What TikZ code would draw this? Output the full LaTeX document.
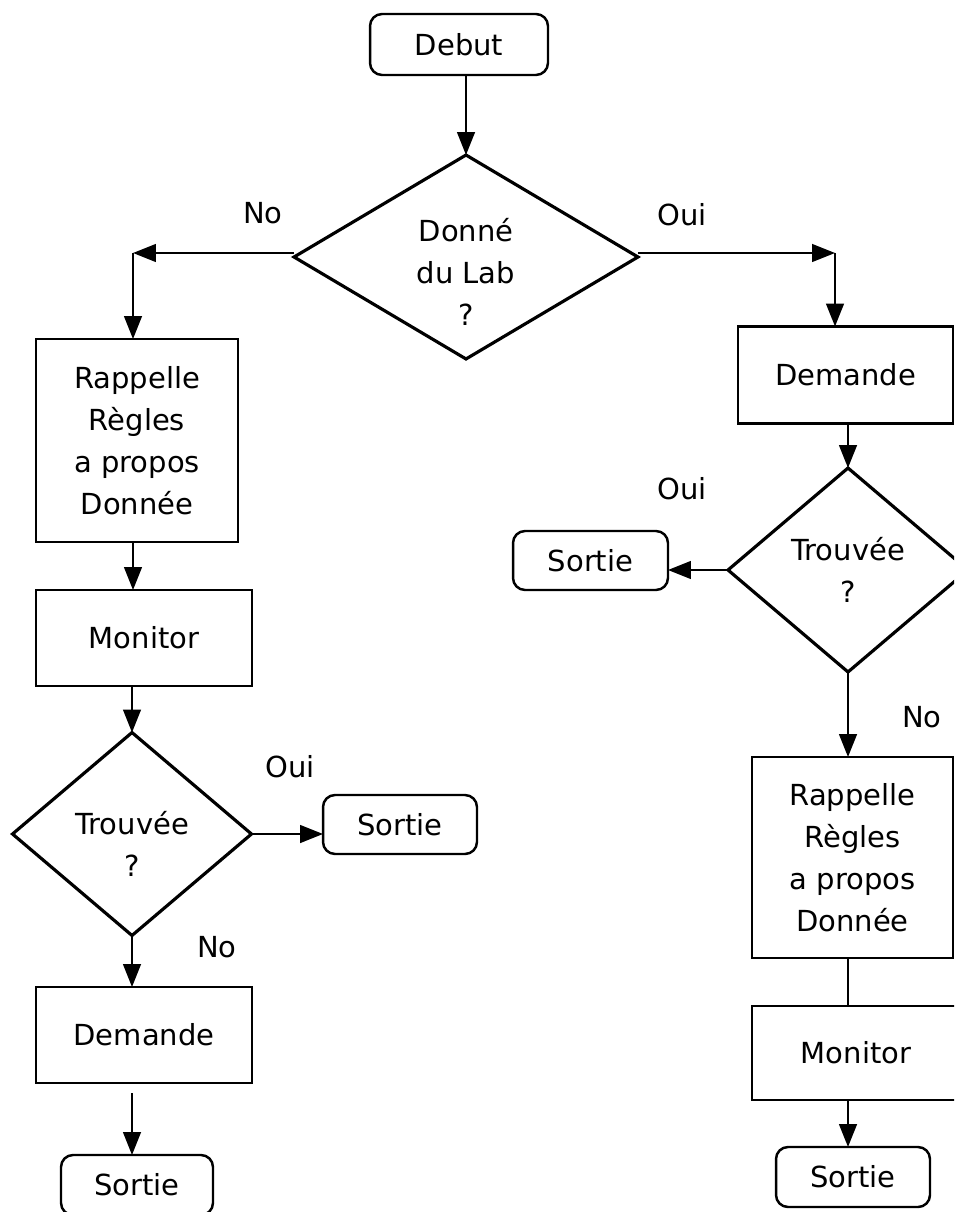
\documentclass[tikz,border=0pt]{standalone}
\usepackage{fontspec}
\setmainfont{DejaVu Sans}
\usepackage{tikz}
\usetikzlibrary{
	arrows.meta,
	calc,
	positioning,
	shapes.geometric
}

\begin{document}
\begin{tikzpicture}[x=0.02cm, y=-0.02cm,
		font=\fontsize{16.5}{23.8}\selectfont,
		proc/.style={draw, line width=1.4pt, rectangle, align=center, inner sep=0pt, outer sep=0pt},
		term/.style={draw, line width=1.4pt, rectangle, rounded corners=0.24cm, inner sep=0pt, outer sep=0pt},
		decide/.style={draw, line width=1.8pt, diamond, align=center, inner sep=0pt, outer sep=0pt},
		flow/.style={line width=1.4pt, -{Triangle[length=13pt, width=10pt]}},
		tag/.style={inner sep=0pt}]
			\useasboundingbox (0,0) rectangle (954,1212);
			\clip (0,0) rectangle (954,1212);
			% top
			\node[term, minimum width=3.56cm, minimum height=1.22cm] (debut) at (459,44.5) {Debut};
			\node[decide, minimum width=6.88cm, minimum height=4.08cm, aspect=1.69] (dlab) at (466,257) {\rule{0pt}{30pt}Donné\\du Lab\\?};
			\node[tag] (no1) at (263,213) {No};
			\node[tag] (oui1) at (682,215) {Oui};
			\coordinate (cl) at (133,253);
			\coordinate (cr) at (835,253);
			% left column
			\begin{scope}
				\node[proc, minimum width=4.04cm, minimum height=4.06cm] (regleA) at (137,440.5) {Rappelle\\Règles\\a propos\\Donnée};
				\node[proc, minimum width=4.32cm, minimum height=1.92cm] (monA) at (144,638) {Monitor};
				\node[decide, minimum width=4.78cm, minimum height=4.06cm, aspect=1.18] (trouA) at (132,834) {\rule{0pt}{24.6pt}Trouvée\\?};
				\node[term, minimum width=3.08cm, minimum height=1.18cm] (sortA) at (400,824.5) {Sortie};
				\node[tag] (oui2) at (290,767) {Oui};
				\node[tag] (no2) at (217,947) {No};
				\node[proc, minimum width=4.32cm, minimum height=1.92cm] (demA) at (144,1035) {Demande};
				\node[term, minimum width=3.04cm, minimum height=1.2cm] (finA) at (137,1185) {Sortie};
			\end{scope}
			% right column
			\begin{scope}
				\node[proc, minimum width=4.3cm, minimum height=1.94cm] (demB) at (845.5,375) {Demande};
				\node[decide, minimum width=4.8cm, minimum height=4.08cm, aspect=1.18] (trouB) at (848,570) {Trouvée\\?};
				\node[term, minimum width=3.1cm, minimum height=1.18cm] (sortB) at (590.5,560.5) {Sortie};
				\node[tag] (oui3) at (682,489) {Oui};
				\node[tag] (no3) at (922,717) {No};
				\node[proc, minimum width=4.02cm, minimum height=4.02cm] (regleB) at (852.5,857.5) {Rappelle\\Règles\\a propos\\Donnée};
				\node[proc, minimum width=4.16cm, minimum height=1.88cm] (monB) at (856,1053) {Monitor};
				\node[term, minimum width=3.08cm, minimum height=1.2cm] (finB) at (853,1177) {Sortie};
			\end{scope}
			% connectors
			\draw[flow] (debut.south -| dlab.north) -- (dlab.north);
			\draw[flow] (dlab.west |- cl) -- (cl);
			\draw[flow] (cl) -- (cl |- regleA.north);
			\draw[flow] (dlab.east |- cr) -- (cr);
			\draw[flow] (cr) -- (cr |- demB.north);
			\draw[flow] (regleA.south -| cl) -- (monA.north -| cl);
			\draw[flow] (monA.south -| trouA.north) -- (trouA.north);
			\draw[flow] (trouA.east) -- (trouA.east -| sortA.west);
			\draw[flow] (trouA.south) -- (trouA.south |- demA.north);
			\draw[flow, shorten <=5.7pt] (demA.south -| trouA.south) -- (finA.north -| trouA.south);
			\draw[flow] (trouB.north |- demB.south) -- (trouB.north);
			\draw[flow] (trouB.west) -- (trouB.west -| sortB.east);
			\draw[flow] (trouB.south) -- (trouB.south |- regleB.north);
			\draw[line width=1.4pt] (trouB.south |- regleB.south) -- (trouB.south |- monB.north);
			\draw[flow] (trouB.south |- monB.south) -- (trouB.south |- finB.north);
		\end{tikzpicture}
\end{document}
